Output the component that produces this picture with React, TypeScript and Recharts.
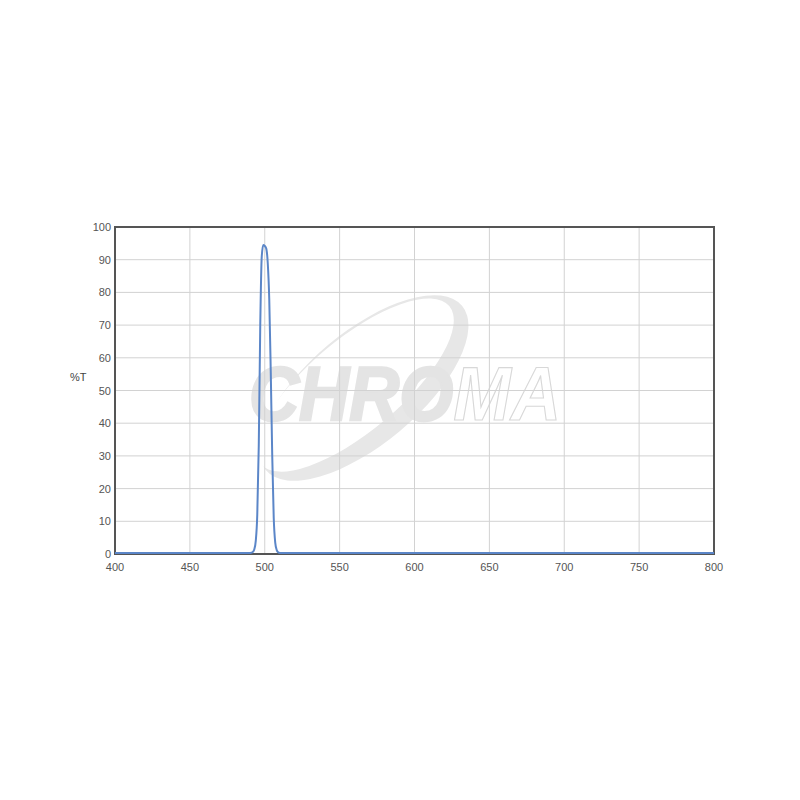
import React from 'react';
import {
    LineChart,
    Line,
    XAxis,
    YAxis,
    CartesianGrid,
    ReferenceArea,
} from 'recharts';

// wavelength (nm) and transmission (%T)
const wavelengths = [
    400, 450, 480, 488, 490, 491, 492, 493, 494, 495, 496, 497, 498, 499, 500,
    501, 502, 503, 504, 505, 506, 507, 508, 509, 510, 512, 520, 550, 600, 650,
    700, 750, 800,
];
const transmission = [
    0.3, 0.3, 0.3, 0.3, 0.3, 0.4, 0.6, 1.4, 4, 12, 33, 70, 91, 94.5, 94.2,
    93.4, 89, 78, 56, 30, 11, 3.5, 1.2, 0.5, 0.3, 0.3, 0.3, 0.3, 0.3, 0.3,
    0.3, 0.3, 0.3,
];

const xTicks = [400, 450, 500, 550, 600, 650, 700, 750, 800];
const yTicks = [0, 10, 20, 30, 40, 50, 60, 70, 80, 90, 100];

const data = wavelengths.map((nm, i) => ({ nm, t: transmission[i] }));

const FONT = '"Liberation Sans", Arial, sans-serif';

const XTick = (props: any) => {
    const { x, y, payload } = props;
    return (
        <text x={x} y={y + 9} textAnchor="middle" fill="#555" fontSize={11} fontFamily={FONT}>
            {payload.value}
        </text>
    );
};

const YTick = (props: any) => {
    const { x, y, payload } = props;
    return (
        <text x={x} y={y + 4} textAnchor="end" fill="#555" fontSize={11} fontFamily={FONT}>
            {payload.value}
        </text>
    );
};

const Watermark = () => (
    <svg
        width={800}
        height={800}
        style={{ position: 'absolute', left: 0, top: 0 }}
    >
        <g transform="rotate(-40 364 388)">
            <ellipse cx={364} cy={388} rx={128} ry={56} fill="#e7e7e7" />
            <ellipse cx={359} cy={380} rx={123} ry={46} fill="#fff" />
        </g>
        <text
            x={249}
            y={420}
            fontFamily={FONT}
            fontWeight="bold"
            fontStyle="italic"
            fontSize={76}
            textLength={312}
            lengthAdjust="spacingAndGlyphs"
        >
            <tspan fill="#e4e4e4" stroke="#e4e4e4" strokeWidth={2.5}>CHRO</tspan>
            <tspan fill="#fff" stroke="#d8d8d8" strokeWidth={1.2}>MA</tspan>
        </text>
    </svg>
);

export default function App() {
    return (
        <div style={{ position: 'relative', width: 800, height: 800, margin: -8, background: '#fff' }}>
            <Watermark />
            <div style={{ position: 'absolute', left: 0, top: 0 }}>
                <LineChart
                    width={800}
                    height={800}
                    data={data}
                    margin={{ top: 227, right: 86, bottom: 216, left: 63 }}
                >
                    <CartesianGrid stroke="#d2d2d2" strokeWidth={1} />
                    <XAxis
                        dataKey="nm"
                        type="number"
                        domain={[400, 800]}
                        ticks={xTicks}
                        tick={<XTick />}
                        tickLine={false}
                        axisLine={false}
                        height={30}
                        interval={0}
                    />
                    <YAxis
                        type="number"
                        domain={[0, 100]}
                        ticks={yTicks}
                        tick={<YTick />}
                        tickLine={false}
                        axisLine={false}
                        tickSize={2}
                        tickMargin={2}
                        width={52}
                        interval={0}
                        label={{
                            value: '%T',
                            position: 'insideLeft',
                            offset: 7,
                            dy: -13,
                            style: { fill: '#444', fontSize: 11, fontFamily: FONT },
                        }}
                    />
                    <ReferenceArea
                        x1={400}
                        x2={800}
                        y1={0}
                        y2={100}
                        fill="none"
                        stroke="#555"
                        strokeWidth={2}
                        ifOverflow="visible"
                    />
                    <Line
                        type="monotone"
                        dataKey="t"
                        stroke="#5b86c8"
                        strokeWidth={2}
                        dot={false}
                        isAnimationActive={false}
                    />
                </LineChart>
            </div>
        </div>
    );
}
